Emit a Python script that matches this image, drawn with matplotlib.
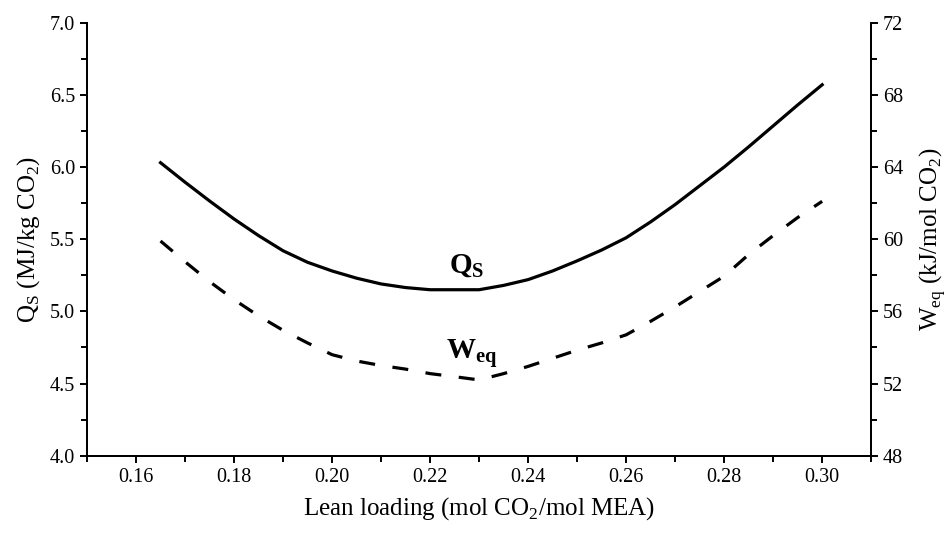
import matplotlib.pyplot as plt
from matplotlib.ticker import MultipleLocator

plt.rcParams['font.family'] = ['Liberation Serif', 'DejaVu Serif']
plt.rcParams['mathtext.fontset'] = 'custom'
plt.rcParams['mathtext.rm'] = 'Liberation Serif'
plt.rcParams['mathtext.bf'] = 'Liberation Serif:bold'

# lean loading (mol CO2/mol MEA)
loading = [0.165, 0.170, 0.175, 0.180, 0.185, 0.190, 0.195, 0.200, 0.205, 0.210,
           0.215, 0.220, 0.225, 0.230, 0.235, 0.240, 0.245, 0.250, 0.255, 0.260,
           0.265, 0.270, 0.275, 0.280, 0.285, 0.290, 0.295, 0.300]
# reboiler heat duty Qs (MJ/kg CO2)
q_s = [6.03, 5.895, 5.765, 5.64, 5.525, 5.42, 5.34, 5.28, 5.23, 5.19,
       5.165, 5.15, 5.15, 5.15, 5.18, 5.22, 5.28, 5.35, 5.425, 5.51,
       5.62, 5.74, 5.87, 6.00, 6.14, 6.285, 6.43, 6.57]
# equivalent work Weq (kJ/mol CO2)
w_eq = [59.9, 58.75, 57.65, 56.65, 55.75, 54.95, 54.25, 53.6, 53.25, 53.0,
        52.8, 52.55, 52.38, 52.2, 52.55, 52.95, 53.4, 53.85, 54.25, 54.7,
        55.45, 56.25, 57.1, 57.95, 59.15, 60.2, 61.2, 62.1]

fig = plt.figure(figsize=(9.49, 5.34), dpi=100)
ax = fig.add_axes([0.0917, 0.1466, 0.8263, 0.8109])
ax2 = ax.twinx()

ax.plot(loading, q_s, color='black', lw=2.3, solid_joinstyle='round')
ax2.plot(loading, w_eq, color='black', lw=2.3, dashes=(5, 5.5))

ax.set_xlim(0.15, 0.31)
ax.set_ylim(4.0, 7.0)
ax2.set_ylim(48, 72)

ax.xaxis.set_major_locator(MultipleLocator(0.02))
ax.xaxis.set_minor_locator(MultipleLocator(0.01))
ax.yaxis.set_major_locator(MultipleLocator(0.5))
ax.yaxis.set_minor_locator(MultipleLocator(0.25))
ax2.yaxis.set_major_locator(MultipleLocator(4))
ax2.yaxis.set_minor_locator(MultipleLocator(2))
ax.xaxis.set_major_formatter(plt.FormatStrFormatter('%.2f'))
ax.yaxis.set_major_formatter(plt.FormatStrFormatter('%.1f'))

for a in (ax, ax2):
    a.spines['top'].set_visible(False)
    for s in a.spines.values():
        s.set_linewidth(1.4)
    a.tick_params(which='major', direction='out', length=5, width=1.4, labelsize=14.5)
    a.tick_params(which='minor', direction='out', length=4, width=1.4)

ax.set_xlabel(r'Lean loading (mol CO$_2$/mol MEA)', fontsize=18, labelpad=6)
ax.set_ylabel(r'Q$_\mathrm{S}$ (MJ/kg CO$_2$)', fontsize=18, labelpad=6)
ax2.set_ylabel(r'W$_\mathrm{eq}$ (kJ/mol CO$_2$)', fontsize=18, labelpad=10)

ax.text(0.2275, 5.31, r'$\mathbf{Q}_\mathbf{S}$', fontsize=21, ha='center', va='center')
ax.text(0.2285, 4.70, r'$\mathbf{W}_\mathbf{eq}$', fontsize=21, ha='center', va='center')

fig.savefig('out.png', dpi=100)
